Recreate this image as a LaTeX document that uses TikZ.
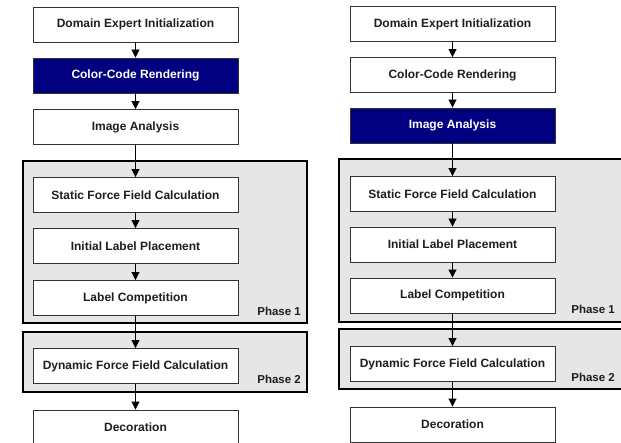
\documentclass[tikz,border=0pt]{standalone}
\usepackage{fontspec}
\setmainfont{Liberation Sans}
\usetikzlibrary{arrows.meta}
\definecolor{navyfill}{HTML}{000080}
\definecolor{phasefill}{HTML}{E6E6E6}
\definecolor{boxline}{HTML}{333333}
\definecolor{inktext}{HTML}{1E1E1E}
\tikzset{
  stepbox/.style={draw=boxline, line width=0.9pt, fill=white, minimum width=205pt,
    minimum height=35pt, inner sep=0pt, text=inktext,
    font=\fontsize{12}{14}\selectfont\bfseries},
  hibox/.style={stepbox, fill=navyfill, text=white},
  phasebox/.style={draw=black, line width=2.2pt, fill=phasefill},
  phaselabel/.style={anchor=east, inner sep=0pt, text=inktext,
    font=\fontsize{11.5}{13}\selectfont\bfseries},
  flow/.style={draw=black, line width=0.9pt, -{Triangle[width=8pt,length=8pt]}}
}
\begin{document}
\begin{tikzpicture}[x=1pt,y=-1pt]
\useasboundingbox (0,0) rectangle (621,443);
\clip (0,0) rectangle (621,443);

% ---------- left pipeline ----------
\draw[phasebox] (23,161) rectangle (307,323);
\draw[phasebox] (23,332) rectangle (307,392);
\node[phaselabel] (LP1) at (301,311) {Phase 1};
\node[phaselabel] (LP2) at (301,379) {Phase 2};

\node[stepbox] (L1) at (135.5,24.5) {Domain Expert Initialization};
\node[hibox]   (L2) at (135.5,75.5) {Color-Code Rendering};
\node[stepbox] (L3) at (135.5,127) {Image Analysis};
\node[stepbox] (L4) at (135.5,195) {Static Force Field Calculation};
\node[stepbox] (L5) at (135.5,246) {Initial Label Placement};
\node[stepbox] (L6) at (135.5,298) {Label Competition};
\node[stepbox] (L7) at (135.5,366) {Dynamic Force Field Calculation};
\node[stepbox] (L8) at (135.5,427.5) {Decoration};

\foreach \a/\b in {L1/L2,L2/L3,L3/L4,L4/L5,L5/L6,L6/L7,L7/L8}
  \draw[flow] (\a.south) -- (\b.north);

% ---------- right pipeline ----------
\draw[phasebox] (339,159) rectangle (640,322);
\draw[phasebox] (339,329) rectangle (640,389);
\node[phaselabel] (RP1) at (615,309) {Phase 1};
\node[phaselabel] (RP2) at (615,377) {Phase 2};

\node[stepbox] (R1) at (452.5,24) {Domain Expert Initialization};
\node[stepbox] (R2) at (452.5,75) {Color-Code Rendering};
\node[hibox]   (R3) at (452.5,125.5) {Image Analysis};
\node[stepbox] (R4) at (452.5,194) {Static Force Field Calculation};
\node[stepbox] (R5) at (452.5,244.5) {Initial Label Placement};
\node[stepbox] (R6) at (452.5,295.5) {Label Competition};
\node[stepbox] (R7) at (452.5,364) {Dynamic Force Field Calculation};
\node[stepbox] (R8) at (452.5,424.5) {Decoration};

\foreach \a/\b in {R1/R2,R2/R3,R3/R4,R4/R5,R5/R6,R6/R7,R7/R8}
  \draw[flow] (\a.south) -- (\b.north);
\end{tikzpicture}
\end{document}
